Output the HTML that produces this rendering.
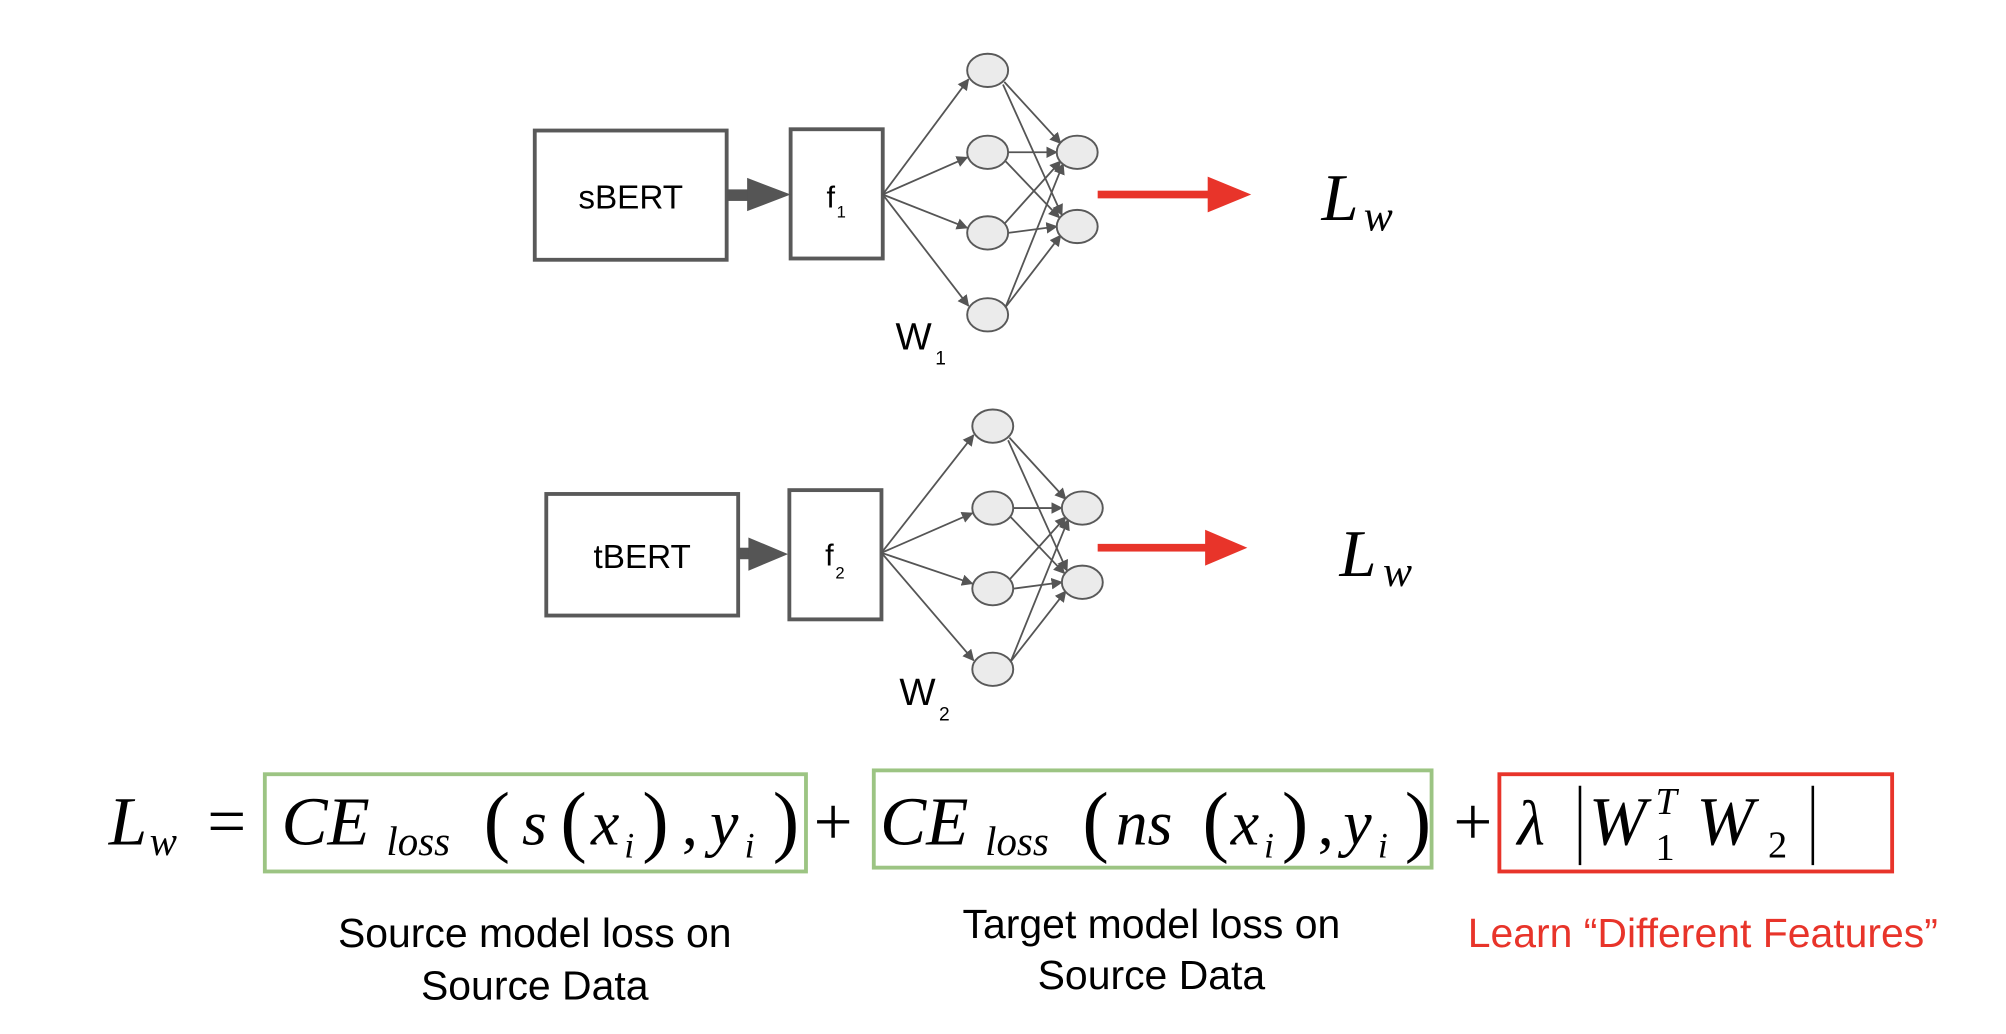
<!DOCTYPE html>
<html><head><meta charset="utf-8"><style>
html,body{margin:0;padding:0;background:#fff;}
svg{display:block;}
.t{font-family:"Liberation Sans",sans-serif;}
.m{font-family:"Liberation Serif",serif;font-style:italic;}
.r{font-family:"Liberation Serif",serif;}
</style></head><body>
<svg width="2006" height="1034" viewBox="0 0 1568 808" preserveAspectRatio="none">
<defs>
<marker id="a" viewBox="0 0 10 10" refX="9" refY="5" markerWidth="9" markerHeight="9" markerUnits="userSpaceOnUse" orient="auto"><path d="M0,0L10,5L0,10z" fill="#555"/></marker>
</defs>
<g stroke="#595959" stroke-width="3" fill="#fff">
<rect x="418" y="102" width="150" height="101"/>
<rect x="618" y="101" width="72" height="101"/>
<rect x="427" y="386" width="150" height="95"/>
<rect x="617" y="383" width="72" height="101"/>
</g>
<g fill="#555">
<rect x="568" y="148" width="18" height="9"/><path d="M584,139L618,152L584,165z"/>
<rect x="577" y="428" width="12" height="9"/><path d="M585,420L616,433L585,446z"/>
</g>
<text class="t" x="493" y="163" font-size="26" text-anchor="middle">sBERT</text>
<text class="t" x="646" y="162" font-size="24">f</text><text class="t" x="654" y="170" font-size="13">1</text>
<text class="t" x="502" y="444" font-size="26" text-anchor="middle">tBERT</text>
<text class="t" x="645" y="442" font-size="24">f</text><text class="t" x="653" y="452" font-size="13">2</text>
<text class="t" x="700" y="273" font-size="30">W</text><text class="t" x="731" y="285" font-size="15">1</text>
<text class="t" x="703" y="551" font-size="30">W</text><text class="t" x="734" y="563" font-size="15">2</text>
<g stroke="#555" stroke-width="1.4" marker-end="url(#a)">
<line x1="690" y1="152" x2="757" y2="62"/>
<line x1="690" y1="152" x2="756" y2="123"/>
<line x1="690" y1="152" x2="756" y2="178"/>
<line x1="690" y1="152" x2="757" y2="239"/>
<line x1="785" y1="64" x2="829" y2="112"/>
<line x1="784" y1="66" x2="830" y2="168"/>
<line x1="788" y1="119" x2="826" y2="119"/>
<line x1="786" y1="126" x2="828" y2="170"/>
<line x1="788" y1="182" x2="826" y2="177"/>
<line x1="786" y1="240" x2="831" y2="128"/>
<line x1="786" y1="240" x2="829" y2="184"/>
<line x1="785" y1="175" x2="829" y2="126"/>
</g>
<g fill="#ebebeb" stroke="#595959" stroke-width="1.5">
<ellipse cx="772" cy="55" rx="16" ry="13"/><ellipse cx="772" cy="119" rx="16" ry="13"/>
<ellipse cx="772" cy="182" rx="16" ry="13"/><ellipse cx="772" cy="246" rx="16" ry="13"/>
<ellipse cx="842" cy="119" rx="16" ry="13"/><ellipse cx="842" cy="177" rx="16" ry="13"/>
</g>
<g stroke="#555" stroke-width="1.4" marker-end="url(#a)">
<line x1="689" y1="432" x2="761" y2="340"/>
<line x1="689" y1="432" x2="760" y2="401"/>
<line x1="689" y1="432" x2="760" y2="456"/>
<line x1="689" y1="432" x2="761" y2="516"/>
<line x1="789" y1="342" x2="833" y2="390"/>
<line x1="788" y1="344" x2="834" y2="446"/>
<line x1="792" y1="397" x2="830" y2="397"/>
<line x1="790" y1="404" x2="832" y2="448"/>
<line x1="792" y1="460" x2="830" y2="455"/>
<line x1="790" y1="517" x2="835" y2="406"/>
<line x1="790" y1="517" x2="833" y2="462"/>
<line x1="789" y1="453" x2="833" y2="404"/>
</g>
<g fill="#ebebeb" stroke="#595959" stroke-width="1.5">
<ellipse cx="776" cy="333" rx="16" ry="13"/><ellipse cx="776" cy="397" rx="16" ry="13"/>
<ellipse cx="776" cy="460" rx="16" ry="13"/><ellipse cx="776" cy="523" rx="16" ry="13"/>
<ellipse cx="846" cy="397" rx="16" ry="13"/><ellipse cx="846" cy="455" rx="16" ry="13"/>
</g>
<g fill="#e8342a">
<rect x="858" y="149" width="90" height="6"/><path d="M944,138L978,152L944,166z"/>
<rect x="858" y="425" width="90" height="6"/><path d="M942,414L975,428L942,442z"/>
</g>
<text class="m" x="1033" y="172" font-size="52">L</text><text class="m" x="1066" y="180" font-size="34">w</text>
<text class="m" x="1047" y="450" font-size="52">L</text><text class="m" x="1081" y="458" font-size="34">w</text>
<!-- equation -->
<rect x="207" y="605" width="423" height="76" fill="none" stroke="#9cc483" stroke-width="3"/>
<rect x="683" y="602" width="436" height="76" fill="none" stroke="#9cc483" stroke-width="3"/>
<rect x="1172" y="605" width="307" height="76" fill="none" stroke="#e8342a" stroke-width="3"/>
<text class="m" x="85" y="660" font-size="54">L</text><text class="m" x="117" y="668" font-size="32">w</text>
<text class="r" x="162" y="660" font-size="54">=</text>
<text class="m" x="220" y="660" font-size="54">CE</text><text class="m" x="302" y="668" font-size="32">loss</text>
<text class="r" x="378" y="662" font-size="62">(</text><text class="m" x="408" y="660" font-size="50">s</text>
<text class="r" x="438" y="662" font-size="62">(</text><text class="m" x="462" y="660" font-size="50">x</text><text class="m" x="488" y="670" font-size="28">i</text>
<text class="r" x="502" y="662" font-size="62">)</text><text class="r" x="533" y="660" font-size="50">,</text>
<text class="m" x="555" y="660" font-size="50">y</text><text class="m" x="582" y="670" font-size="28">i</text><text class="r" x="604" y="662" font-size="62">)</text>
<text class="r" x="636" y="660" font-size="54">+</text>
<text class="m" x="688" y="660" font-size="54">CE</text><text class="m" x="770" y="668" font-size="32">loss</text>
<text class="r" x="846" y="662" font-size="62">(</text><text class="m" x="872" y="660" font-size="50">ns</text>
<text class="r" x="940" y="662" font-size="62">(</text><text class="m" x="962" y="660" font-size="50">x</text><text class="m" x="988" y="670" font-size="28">i</text>
<text class="r" x="1002" y="662" font-size="62">)</text><text class="r" x="1030" y="660" font-size="50">,</text>
<text class="m" x="1050" y="660" font-size="50">y</text><text class="m" x="1077" y="670" font-size="28">i</text><text class="r" x="1098" y="662" font-size="62">)</text>
<text class="r" x="1136" y="660" font-size="54">+</text>
<text class="m" x="1186" y="660" font-size="50">λ</text>
<line x1="1235" y1="614" x2="1235" y2="676" stroke="#000" stroke-width="2"/>
<text class="m" x="1242" y="660" font-size="54">W</text><text class="m" x="1294" y="636" font-size="30">T</text><text class="r" x="1294" y="672" font-size="30">1</text>
<text class="m" x="1326" y="660" font-size="54">W</text><text class="r" x="1382" y="670" font-size="30">2</text>
<line x1="1417" y1="614" x2="1417" y2="676" stroke="#000" stroke-width="2"/>
<g class="t" font-size="32" text-anchor="middle">
<text x="418" y="740">Source model loss on</text>
<text x="418" y="781">Source Data</text>
<text x="900" y="733">Target model loss on</text>
<text x="900" y="773">Source Data</text>
<text x="1331" y="740" fill="#e8342a">Learn “Different Features”</text>
</g>
</svg>
</body></html>
